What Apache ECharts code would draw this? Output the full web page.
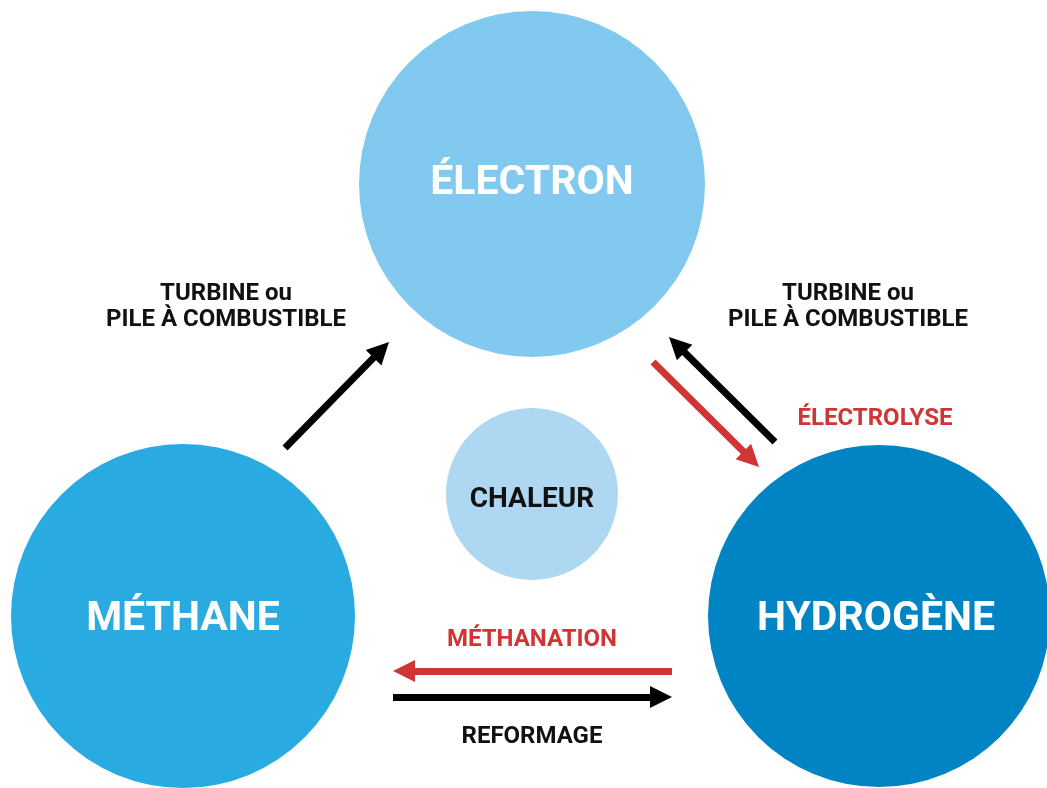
<!DOCTYPE html>
<html>
    <head>
        <meta charset="utf-8">
        <title>Électron, méthane, hydrogène</title>
        <script src="https://cdn.jsdelivr.net/npm/echarts@6/dist/echarts.min.js"></script>
        <style>
            html, body { margin: 0; padding: 0; background: #fff; }
        </style>
    </head>
    <body>
        <div id="main" style="width: 1047px;height: 788px;"></div>
        <script>
            // cercles
            var nodeNames = ['ÉLECTRON', 'CHALEUR', 'MÉTHANE', 'HYDROGÈNE'];
            var nodeX = [532, 532, 183, 879];
            var nodeY = [184, 494, 616, 616];
            var nodeR = [173, 86, 172, 171];
            var nodeColors = ['#82c9ef', '#aed7f2', '#29abe2', '#0084c4'];
            var nodeTextColors = ['#ffffff', '#111111', '#ffffff', '#ffffff'];

            // flèches (queue -> pointe)
            var arrowFrom = [[285, 448], [653, 362], [775, 442], [672, 671], [393, 697]];
            var arrowTo = [[389, 342], [759, 467], [669, 337], [393, 671], [672, 697]];
            var arrowColors = ['#000000', '#cf3535', '#000000', '#cf3535', '#000000'];

            // textes
            var labelTexts = ['TURBINE ou\nPILE À COMBUSTIBLE', 'TURBINE ou\nPILE À COMBUSTIBLE', 'ÉLECTROLYSE', 'MÉTHANATION', 'REFORMAGE'];
            var labelX = [226, 848, 875, 532, 532];
            var labelY = [304, 304, 416, 637, 734];
            var labelColors = ['#111111', '#111111', '#cf3535', '#cf3535', '#111111'];

            var headLen = 22;
            var textShift = 3;
            var nodeLabelShift = [[0, 0], [0, 6], [0, 4], [-3, 4]];

            var myChart = echarts.init(document.getElementById('main'));

            var nodeData = nodeNames.map(function (n, i) {
                return {
                    name: n,
                    value: [nodeX[i], nodeY[i]],
                    symbolSize: nodeR[i] * 2,
                    itemStyle: { color: nodeColors[i] },
                    label: {
                        color: nodeTextColors[i],
                        fontSize: i === 1 ? 28 : 41,
                        offset: nodeLabelShift[i]
                    }
                };
            });

            // la pointe du triangle dépasse de la moitié de sa taille
            var arrowData = arrowFrom.map(function (p, i) {
                var q = arrowTo[i];
                var dx = q[0] - p[0], dy = q[1] - p[1];
                var len = Math.sqrt(dx * dx + dy * dy);
                var end = [q[0] - dx / len * headLen / 2, q[1] - dy / len * headLen / 2];
                return {
                    coords: [p, end],
                    lineStyle: { color: arrowColors[i] },
                    itemStyle: { color: arrowColors[i] }
                };
            });

            var labelData = labelTexts.map(function (t, i) {
                return {
                    name: t,
                    value: [labelX[i], labelY[i]],
                    label: { color: labelColors[i] }
                };
            });

            option = {
                animation: false,
                grid: { left: 0, right: 0, top: 0, bottom: 0 },
                xAxis: { type: 'value', min: 0, max: 1047, show: false },
                yAxis: { type: 'value', min: 0, max: 788, inverse: true, show: false },
                series: [{
                    type: 'scatter',
                    clip: false,
                    data: nodeData,
                    itemStyle: { opacity: 1 },
                    label: {
                        show: true,
                        position: 'inside',
                        formatter: '{b}',
                        fontFamily: 'Roboto',
                        fontWeight: 'bold'
                    },
                    silent: true
                }, {
                    type: 'lines',
                    coordinateSystem: 'cartesian2d',
                    symbol: ['none', 'triangle'],
                    symbolSize: [22, headLen],
                    lineStyle: { width: 7, opacity: 1, cap: 'butt' },
                    data: arrowData,
                    silent: true
                }, {
                    type: 'scatter',
                    symbolSize: 0,
                    itemStyle: { opacity: 1 },
                    data: labelData,
                    label: {
                        show: true,
                        position: 'inside',
                        offset: [0, textShift],
                        formatter: '{b}',
                        fontFamily: 'Roboto',
                        fontWeight: 'bold',
                        fontSize: 24,
                        lineHeight: 26,
                        align: 'center'
                    },
                    silent: true
                }]
            };

            myChart.setOption(option);
        </script>
    </body>
</html>
